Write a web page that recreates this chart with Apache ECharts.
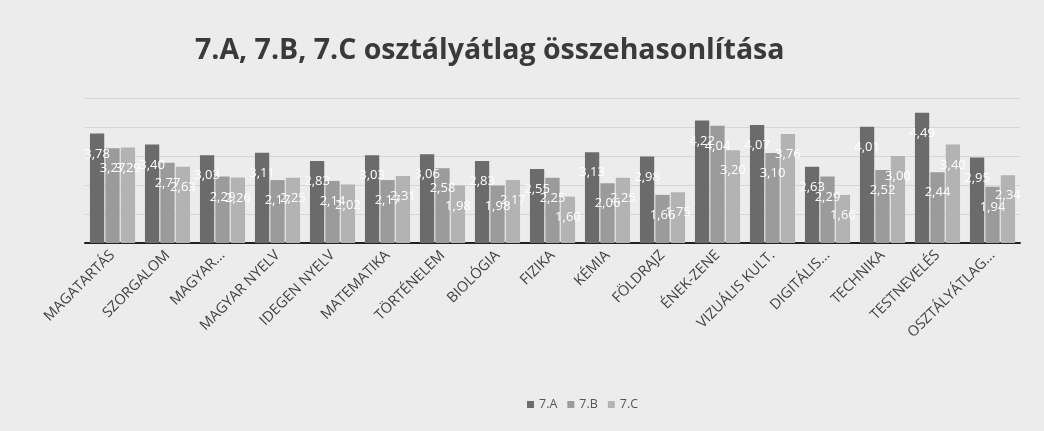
<!DOCTYPE html>
<html lang="hu">
<head>
  <meta charset="UTF-8">
  <title>7.A, 7.B, 7.C osztályátlag</title>
  <style>
    html, body { margin: 0; padding: 0; background: #e9e9e9; }
  </style>
</head>
<body>
  <div id="main" style="width: 1044px;height:431px;"></div>

  <script src="https://cdn.jsdelivr.net/npm/echarts@6/dist/echarts.min.js"></script>

  <script type="text/javascript">
    // tantárgyak
    var categories = ['MAGATARTÁS', 'SZORGALOM', 'MAGYAR...', 'MAGYAR NYELV', 'IDEGEN NYELV', 'MATEMATIKA',
      'TÖRTÉNELEM', 'BIOLÓGIA', 'FIZIKA', 'KÉMIA', 'FÖLDRAJZ', 'ÉNEK-ZENE', 'VIZUÁLIS KULT.', 'DIGITÁLIS...',
      'TECHNIKA', 'TESTNEVELÉS', 'OSZTÁLYÁTLAG...'];
    var classNames = ['7.A', '7.B', '7.C'];
    var dataA = [3.78, 3.40, 3.03, 3.11, 2.83, 3.03, 3.06, 2.83, 2.55, 3.13, 2.98, 4.22, 4.07, 2.63, 4.01, 4.49, 2.95];
    var dataB = [3.27, 2.77, 2.29, 2.17, 2.14, 2.17, 2.58, 1.98, 2.25, 2.06, 1.66, 4.04, 3.10, 2.29, 2.52, 2.44, 1.94];
    var dataC = [3.29, 2.63, 2.26, 2.25, 2.02, 2.31, 1.98, 2.17, 1.60, 2.25, 1.75, 3.20, 3.76, 1.66, 3.00, 3.40, 2.34];
    var yTicks = [0, 1, 2, 3, 4, 5];

    var colors = ['#6b6b6b', '#9b9b9b', '#b3b3b3'];
    var font = 'Open Sans';

    var myChart = echarts.init(document.getElementById('main'));

    function makeSeries(name, data, idx) {
      return {
        name: name,
        type: 'bar',
        data: data,
        barGap: '8%',
        barCategoryGap: '18%',
        itemStyle: { color: colors[idx] },
        label: {
          show: true,
          position: 'insideTop',
          distance: 14,
          color: '#ffffff',
          fontFamily: font,
          fontSize: 13,
          formatter: function (p) {
            return p.value.toFixed(2).replace('.', ',');
          }
        }
      };
    }

    var option = {
      backgroundColor: '#ececec',
      animation: false,
      color: colors,
      title: {
        text: '7.A, 7.B, 7.C osztályátlag összehasonlítása',
        left: 190,
        top: 31,
        textStyle: {
          fontFamily: font,
          fontWeight: 'bold',
          fontSize: 28.5,
          color: '#3a3a3a'
        }
      },
      legend: {
        data: classNames,
        left: 522,
        top: 393,
        itemWidth: 7,
        itemHeight: 7,
        itemGap: 10,
        icon: 'rect',
        textStyle: { fontFamily: font, fontSize: 12.5, color: '#555' }
      },
      grid: {
        left: 85,
        right: 24,
        top: 98,
        bottom: 188
      },
      xAxis: {
        type: 'category',
        data: categories,
        axisTick: { show: false },
        axisLine: { lineStyle: { color: '#222', width: 2 } },
        axisLabel: {
          interval: 0,
          rotate: 45,
          margin: 10,
          fontFamily: font,
          fontSize: 14.5,
          color: '#404040'
        }
      },
      yAxis: {
        type: 'value',
        min: yTicks[0],
        max: yTicks[yTicks.length - 1],
        interval: 1,
        axisLabel: { show: false },
        axisLine: { show: false },
        axisTick: { show: false },
        splitLine: { lineStyle: { color: '#d6d6d6', width: 1 } }
      },
      series: [
        makeSeries(classNames[0], dataA, 0),
        makeSeries(classNames[1], dataB, 1),
        makeSeries(classNames[2], dataC, 2)
      ]
    };

    myChart.setOption(option);
  </script>
</body>
</html>
